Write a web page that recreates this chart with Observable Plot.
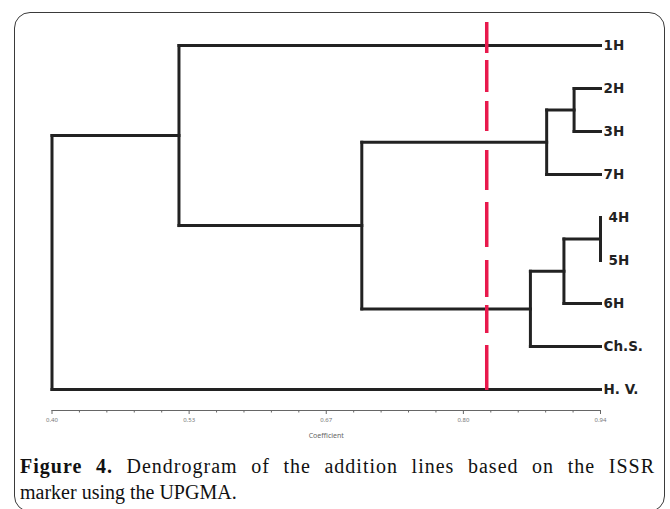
<!DOCTYPE html>
<html>
<head>
<meta charset="utf-8">
<script src="https://cdn.jsdelivr.net/npm/d3@7"></script>
<script src="https://cdn.jsdelivr.net/npm/@observablehq/plot@0.6"></script>
<style>
  html, body { margin: 0; padding: 0; background: #fff; }
  #wrap { position: relative; width: 670px; height: 509px; overflow: hidden; background: #fff; }
  #frame { position: absolute; left: 14px; top: 12px; width: 651px; height: 500px;
           border: 1.2px solid #3a3a3a; border-radius: 16px; box-sizing: border-box; }
  #chart { position: absolute; left: 0; top: 0; }
  #caption { position: absolute; left: 20px; top: 453px; width: 635px;
             font-family: "Liberation Serif", "Times New Roman", serif; font-size: 20px;
             line-height: 26px; color: #111; }
  #caption .l1 { text-align: justify; text-align-last: justify; letter-spacing: 1px; }
  #caption b { font-weight: bold; }
</style>
</head>
<body>
<div id="wrap">
  <div id="frame"></div>
  <div id="chart"></div>
  <div id="caption"><div class="l1"><b>Figure 4.</b> Dendrogram of the addition lines based on the ISSR</div><div>marker using the UPGMA.</div></div>
</div>
<script>
// ---- data ----
const leaves = ["1H", "2H", "3H", "7H", "4H", "5H", "6H", "Ch.S.", "H. V."];
// UPGMA merges: node ids 0..8 are leaves, 9.. are internal nodes in merge order
const mergeA    = [4,    1,     9,     10,    11,    12,    0,     15];
const mergeB    = [5,    2,     6,     3,     7,     13,    14,    8];
const mergeCoef = [0.94, 0.914, 0.904, 0.887, 0.871, 0.705, 0.525, 0.40];
const axisMin = 0.40, axisMax = 0.94;
const cutoff = 0.828;
const tickValues = [0.40, 0.535, 0.67, 0.805, 0.94];
const tickLabels = ["0.40", "0.53", "0.67", "0.80", "0.94"];
const minorPerMajor = 5;

// ---- build tree geometry ----
const nodeX = leaves.map(() => axisMax);
const nodeY = leaves.map((d, i) => i);
const segs = [];
mergeCoef.forEach((c, k) => {
  const a = mergeA[k], b = mergeB[k];
  nodeX.push(c);
  nodeY.push((nodeY[a] + nodeY[b]) / 2);
  segs.push({x1: c, y1: nodeY[a], x2: c, y2: nodeY[b]});
  for (const ch of [a, b]) {
    if (nodeX[ch] !== c) segs.push({x1: c, y1: nodeY[ch], x2: nodeX[ch], y2: nodeY[ch]});
  }
});
// leaves whose parent merge sits at the right edge get a label offset
const parentCoef = {};
mergeCoef.forEach((c, k) => { parentCoef[mergeA[k]] = c; parentCoef[mergeB[k]] = c; });
const leafData = leaves.map((name, i) => ({name, i, flush: parentCoef[i] >= axisMax}));

const minorTicks = [];
for (let j = 0; j < tickValues.length - 1; j++) {
  const step = (tickValues[j + 1] - tickValues[j]) / minorPerMajor;
  for (let m = 1; m < minorPerMajor; m++) minorTicks.push(tickValues[j] + m * step);
}

const labelFont = "'DejaVu Sans', sans-serif";

const chart = Plot.plot({
  width: 670,
  height: 450,
  marginLeft: 51.5,
  marginRight: 70,
  marginTop: 22,
  marginBottom: 40,
  style: {background: "transparent", overflow: "visible"},
  x: {domain: [axisMin, axisMax], axis: null},
  y: {domain: [0, leaves.length - 1], range: [45, 389], axis: null},
  marks: [
    Plot.frame({anchor: "bottom", stroke: "#666", strokeWidth: 1}),
    Plot.axisX(minorTicks, {tickSize: 2.5, tickFormat: () => "", stroke: "#666", label: null}),
    Plot.axisX(tickValues, {tickSize: 4, tickPadding: 3, stroke: "#666",
      tickFormat: (d, i) => tickLabels[i], fontSize: 6, fill: "#777", label: null}),
    Plot.text(["Coefficient"], {frameAnchor: "bottom", dy: 27, fontSize: 7, fill: "#666"}),
    Plot.link(segs, {x1: "x1", y1: "y1", x2: "x2", y2: "y2",
      stroke: "#222", strokeWidth: 3, strokeLinecap: "square"}),
    Plot.ruleX([cutoff], {stroke: "#e8194c", strokeWidth: 3.5, insetBottom: 20,
      strokeDasharray: "31,7,32,9,30,19,40,12,45,13,37,8,28,12,45"}),
    Plot.text(leafData.filter(d => !d.flush), {x: axisMax, y: "i", text: "name", dx: 3,
      textAnchor: "start", fontWeight: "bold", fontSize: 13.5, fontFamily: labelFont, fill: "#222"}),
    Plot.text(leafData.filter(d => d.flush), {x: axisMax, y: "i", text: "name", dx: 8,
      textAnchor: "start", fontWeight: "bold", fontSize: 13.5, fontFamily: labelFont, fill: "#222"})
  ]
});
document.getElementById("chart").appendChild(chart);
</script>
</body>
</html>
